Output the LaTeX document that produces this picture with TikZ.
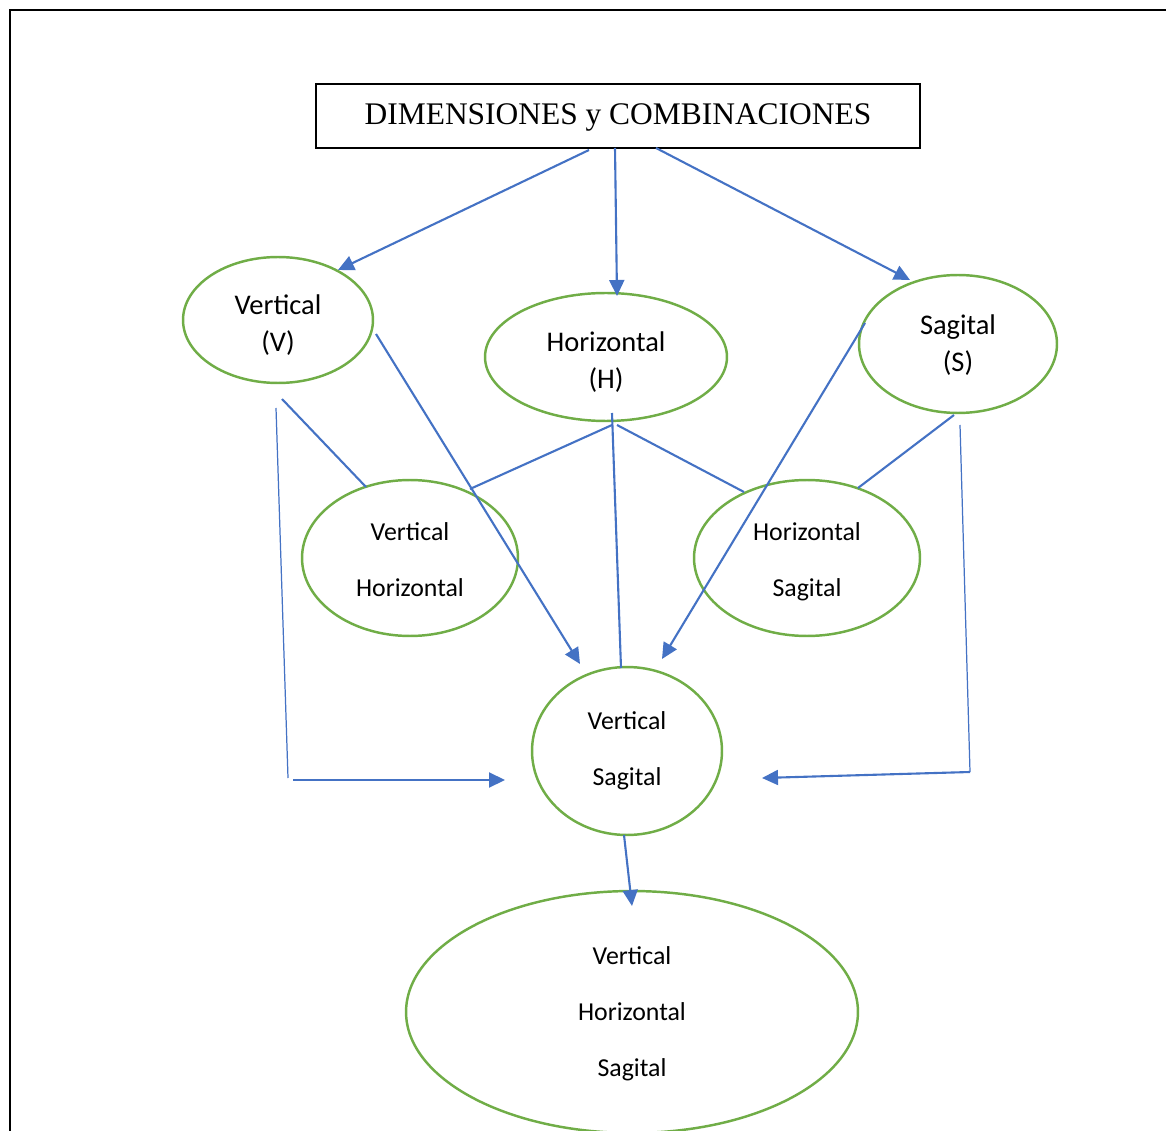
\documentclass[tikz,border=0pt]{standalone}
\usepackage{fontspec}
\setmainfont{Carlito}
\newfontfamily\titlefont{Liberation Serif}
\usetikzlibrary{arrows.meta,shapes.geometric}
\definecolor{conblue}{HTML}{4472C4}
\definecolor{ellgreen}{HTML}{70AD47}
\newcommand\lowr[2]{\raisebox{-#1}[\height][\depth]{#2}}
\begin{document}
\begin{tikzpicture}[x=0.02cm,y=-0.02cm,
  ell/.style={draw=ellgreen,line width=1.4pt,ellipse,inner sep=0pt,align=center},
  big/.style={font=\fontsize{16.2}{21}\selectfont},
  small/.style={font=\fontsize{14.7}{32}\selectfont},
  conn/.style={draw=conblue,line width=1.2pt},
  arr/.style={conn,-{Triangle[length=0.32cm,width=0.3cm]}},
  thin/.style={draw=conblue,line width=0.7pt}]
\useasboundingbox (0,0) rectangle (1166,1131);
\clip (0,0) rectangle (1166,1131);
% frame
\draw[line width=1.3pt] (10,1140) -- (10,10) -- (1180,10);
% title
\node[draw,line width=0.9pt,minimum width=12.08cm,minimum height=1.28cm,inner sep=0pt,
  font=\titlefont\fontsize{17.9}{20}\selectfont] (title) at (618,116) {\lowr{0.02cm}{DIMENSIONES y COMBINACIONES}};
% ellipses
\node[ell,big,minimum width=3.8cm,minimum height=2.52cm] (V) at (278,320) {\lowr{0.1cm}{Vertical}\\\lowr{0.1cm}{(V)}};
\node[ell,big,minimum width=4.84cm,minimum height=2.56cm] (H) at (606,357) {\lowr{0.1cm}{Horizontal}\\\lowr{0.1cm}{(H)}};
\node[ell,big,minimum width=3.96cm,minimum height=2.76cm] (S) at (958,344) {\lowr{0.03cm}{Sagital}\\\lowr{0.03cm}{(S)}};
\node[ell,small,minimum width=4.32cm,minimum height=3.12cm] (VH) at (410,558) {\lowr{0.04cm}{Vertical}\\\lowr{0.04cm}{Horizontal}};
\node[ell,small,minimum width=4.52cm,minimum height=3.12cm] (HS) at (807,558) {\lowr{0.07cm}{Horizontal}\\\lowr{0.07cm}{Sagital}};
\node[ell,small,minimum width=3.8cm,minimum height=3.36cm] (VS) at (627,751) {Vertical\\Sagital};
\node[ell,small,minimum width=9.04cm,minimum height=4.84cm] (VHS) at (632,1012) {\lowr{0.03cm}{Vertical}\\\lowr{0.03cm}{Horizontal}\\\lowr{0.03cm}{Sagital}};
% connector points
\coordinate (t1) at (589,150); \coordinate (v1) at (338,270);
\coordinate (t2) at (615,148); \coordinate (h1) at (617,296);
\coordinate (t3) at (656,148); \coordinate (s1) at (910,280);
\coordinate (v2) at (376,334); \coordinate (vs1) at (580,664);
\coordinate (v3) at (282,399); \coordinate (vh1) at (366,487);
\coordinate (v4) at (276,408); \coordinate (c1) at (288,778);
\coordinate (c1b) at (293,780); \coordinate (vs2) at (505,780);
\coordinate (h2) at (612,425); \coordinate (vh2) at (470,489);
\coordinate (h3) at (617,425); \coordinate (hs1) at (744,492);
\coordinate (h4) at (612,413); \coordinate (vs3) at (621,668);
\coordinate (s2) at (865,323); \coordinate (vs4) at (662,659);
\coordinate (s3) at (954,415); \coordinate (hs2) at (858,488);
\coordinate (s4) at (960,425); \coordinate (c2) at (970,772);
\coordinate (vs5) at (762,778);
\coordinate (vs6) at (624,835); \coordinate (vhs1) at (632,906);
% connectors
\draw[arr] (t1) -- (v1);
\draw[arr] (t2) -- (h1);
\draw[arr] (t3) -- (s1);
\draw[arr] (v2) -- (vs1);
\draw[conn] (v3) -- (vh1);
\draw[thin] (v4) -- (c1);
\draw[arr] (c1b) -- (vs2);
\draw[conn] (h2) -- (vh2);
\draw[conn] (h3) -- (hs1);
\draw[conn] (h4) -- (vs3);
\draw[arr] (s2) -- (vs4);
\draw[conn] (s3) -- (hs2);
\draw[thin] (s4) -- (c2);
\draw[arr] (c2) -- (vs5);
\draw[arr] (vs6) -- (vhs1);
\end{tikzpicture}
\end{document}
